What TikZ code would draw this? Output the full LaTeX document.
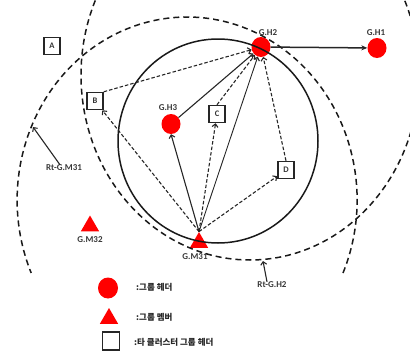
\documentclass[tikz,border=0pt]{standalone}
\usepackage{fontspec}
\setmainfont{Carlito}
\newfontfamily\kr{Noto Sans CJK KR}
\usetikzlibrary{arrows.meta,shapes.geometric}
\begin{document}
\begin{tikzpicture}[x=1pt,y=-1pt,
  every node/.style={inner sep=0pt},
  lbl/.style={font=\fontsize{9}{10}\selectfont\bfseries, text=black!78},
  krl/.style={font=\kr\fontsize{8.5}{10}\selectfont\bfseries, text=black!85, anchor=west},
  head/.style={ellipse, fill=red, minimum width=19pt, minimum height=20pt},
  member/.style={regular polygon, regular polygon sides=3, fill=red, minimum size=21pt},
  ohead/.style={draw=black!85, line width=1.5pt, minimum width=16pt, minimum height=17pt, font=\fontsize{8.5}{9}\selectfont\bfseries, text=black!80},
  link/.style={line width=1.1pt, draw=black!85, -{Straight Barb[length=3pt,width=6pt,line width=1.1pt]}},
  dlink/.style={link, dash pattern=on 3.5pt off 2pt},
  rangeline/.style={line width=1.5pt, draw=black!90, dash pattern=on 6pt off 4pt},
]
\useasboundingbox (0,0) rectangle (410,351);

% nodes
\node[head] (h2) at (261,47) {};
\node[lbl] (h2l) at (268,33) {G.H2};
\node[head] (h1) at (377,48) {};
\node[lbl] (h1l) at (376,33) {G.H1};
\node[head] (h3) at (171,124) {};
\node[lbl] (h3l) at (168,108) {G.H3};
\node[ohead] (a) at (52,46) {A};
\node[ohead] (b) at (95,101) {B};
\node[ohead] (c) at (217,114) {C};
\node[ohead] (d) at (286,170) {D};
\node[member] (m31) at (199,242.5) {};
\node[lbl] (m31l) at (195,257) {G.M31};
\node[member] (m32) at (90,226) {};
\node[lbl] (m32l) at (90,240) {G.M32};

% ranges
\draw[line width=1.5pt, draw=black!90] (218,141) ellipse [x radius=100pt, y radius=102pt];
\begin{scope}
  \clip (0,0) rectangle (410,351);
  \draw[rangeline] (250,75) ellipse [x radius=169pt, y radius=185pt];
\end{scope}
\draw[rangeline] (343,273) arc[start angle=-23.5, end angle=203.5, x radius=170pt, y radius=183pt];

% range labels
\node[lbl] (rtml) at (64,168) {Rt-G.M31};
\coordinate (rtm) at (33,127);
\draw[link] ([xshift=-4pt]rtml.north) -- (rtm);
\node[lbl] (rthl) at (272,285) {Rt-G.H2};
\coordinate (rth) at (263,261);
\draw[link] ([xshift=-5pt]rthl.north) -- (rth);

% connectors
\draw[line width=1.5pt, draw=black!85, -{Stealth[length=6pt,width=5pt]}] (h2) -- (h1);
\draw[link] (h3) -- (h2);
\draw[link] (m31.corner 1) -- (h3.south);
\draw[link, line width=0.9pt] (m31.corner 1) -- (h2);
\draw[dlink] (m31.corner 1) -- (c);
\draw[dlink] (c.north) -- (h2);
\draw[dlink] (m31.corner 1) -- (b);
\draw[dlink] (b.north east) -- (h2);
\draw[dlink] (m31.corner 1) -- (d);
\draw[dlink] (d.north) -- (h2);

% legend
\node[head, minimum width=20pt, minimum height=21pt] (lg1) at (108,288) {};
\node[krl] (lg1t) at (136,287) {:그룹 헤더};
\node[member] (lg2) at (109,318.5) {};
\node[krl] (lg2t) at (136,317) {:그룹 멤버};
\node[ohead, minimum width=17pt, minimum height=18pt] (lg3) at (111,341) {};
\node[krl] (lg3t) at (134,342) {:타 클러스터 그룹 헤더};
\end{tikzpicture}
\end{document}
